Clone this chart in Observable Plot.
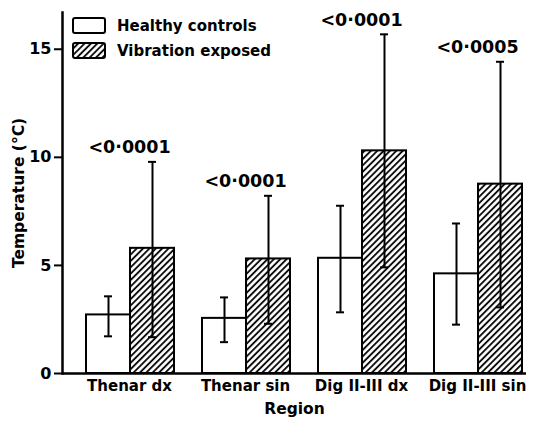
<!DOCTYPE html>
<html><head><meta charset="utf-8">
<script src="https://cdn.jsdelivr.net/npm/d3@7"></script>
<script src="https://cdn.jsdelivr.net/npm/@observablehq/plot@0.6"></script>
<style>
body{margin:0;background:#fff;font-family:"DejaVu Sans",sans-serif;font-weight:bold;}
#wrap{position:relative;width:541px;height:425px;}
#legend{position:absolute;left:72px;top:14px;}
.item{display:flex;align-items:center;height:24.5px;font-size:15px;color:#000;}
.item svg{margin-right:11px;}
</style></head><body>
<svg width="0" height="0" style="position:absolute"><defs>
<pattern id="hatch" patternUnits="userSpaceOnUse" width="4.5" height="4.5" patternTransform="rotate(45)">
<rect width="4.5" height="4.5" fill="#fff"/><line x1="1" y1="0" x2="1" y2="4.5" stroke="#000" stroke-width="1.8"/>
</pattern></defs></svg>
<div id="wrap"><div id="legend"></div></div>
<script>
const regions = ["Thenar dx", "Thenar sin", "Dig II-III dx", "Dig II-III sin"];
const groups = ["Healthy controls", "Vibration exposed"];
const healthyMean = [2.71, 2.55, 5.33, 4.61];
const healthyLow = [1.72, 1.45, 2.83, 2.26];
const healthyHigh = [3.57, 3.52, 7.76, 6.94];
const vibrationMean = [5.79, 5.30, 10.30, 8.76];
const vibrationLow = [1.68, 2.30, 4.91, 3.06];
const vibrationHigh = [9.79, 8.22, 15.69, 14.42];
const pValues = ["<0·0001", "<0·0001", "<0·0001", "<0·0005"];
const yTicks = [0, 5, 10, 15];
const groupFills = ["white", "url(#hatch)"];

const rows = regions.flatMap((r, i) => [
  {region: r, group: groups[0], mean: healthyMean[i], lo: healthyLow[i], hi: healthyHigh[i]},
  {region: r, group: groups[1], mean: vibrationMean[i], lo: vibrationLow[i], hi: vibrationHigh[i]}
]);
const pRows = regions.map((r, i) => ({region: r, p: pValues[i], hi: vibrationHigh[i]}));

const plot = Plot.plot({
  width: 541, height: 425,
  marginLeft: 60, marginRight: 14, marginTop: 12, marginBottom: 52,
  style: {fontFamily: "'DejaVu Sans', sans-serif", fontWeight: "bold", background: "white", color: "black"},
  fx: {domain: regions, padding: 0},
  x: {domain: groups, paddingInner: 0, paddingOuter: 0.297, align: 0.86, axis: null},
  y: {domain: [0, 16.7]},
  color: {domain: groups, range: groupFills},
  marks: [
    Plot.barY(rows, {fx: "region", x: "group", y: "mean", fill: "group", stroke: "black", strokeWidth: 2}),
    Plot.ruleX(rows, {fx: "region", x: "group", y1: "lo", y2: "hi", stroke: "black", strokeWidth: 2}),
    Plot.tickY(rows, {fx: "region", x: "group", y: "lo", stroke: "black", strokeWidth: 2, insetLeft: 18, insetRight: 18}),
    Plot.tickY(rows, {fx: "region", x: "group", y: "hi", stroke: "black", strokeWidth: 2, insetLeft: 18, insetRight: 18}),
    Plot.text(pRows, {fx: "region", y: "hi", text: "p", dy: -14, dx: 9, fontSize: 17.5, fontWeight: "bold", fill: "black"}),
    Plot.ruleY([0], {stroke: "black", strokeWidth: 2.5}),
    Plot.frame({anchor: "left", facetAnchor: "left", stroke: "black", strokeWidth: 2.5}),
    Plot.axisY({ticks: yTicks, tickSize: 8, tickPadding: 3, fontSize: 16, strokeWidth: 2,
      label: "Temperature (°C)", labelAnchor: "center", labelArrow: "none", labelOffset: 50}),
    Plot.axisFx({anchor: "bottom", tickSize: 0, tickPadding: 7, fontSize: 15, dx: 9,
      label: "Region", labelAnchor: "center", labelArrow: "none", labelOffset: 40})
  ]
});
plot.querySelectorAll("[aria-label='y-axis label'], [aria-label='fx-axis label']").forEach(n => n.setAttribute("font-size", 15.5));
document.getElementById("wrap").prepend(plot);

const legend = d3.select("#legend");
groups.forEach((g, i) => {
  const item = legend.append("div").attr("class", "item");
  const sw = item.append("svg").attr("width", 34).attr("height", 18);
  sw.append("rect").attr("x", 1).attr("y", 1).attr("width", 32).attr("height", 15).attr("rx", 2)
    .attr("fill", groupFills[i]).attr("stroke", "black").attr("stroke-width", 2);
  item.append("span").text(g);
});
</script>
</body></html>
